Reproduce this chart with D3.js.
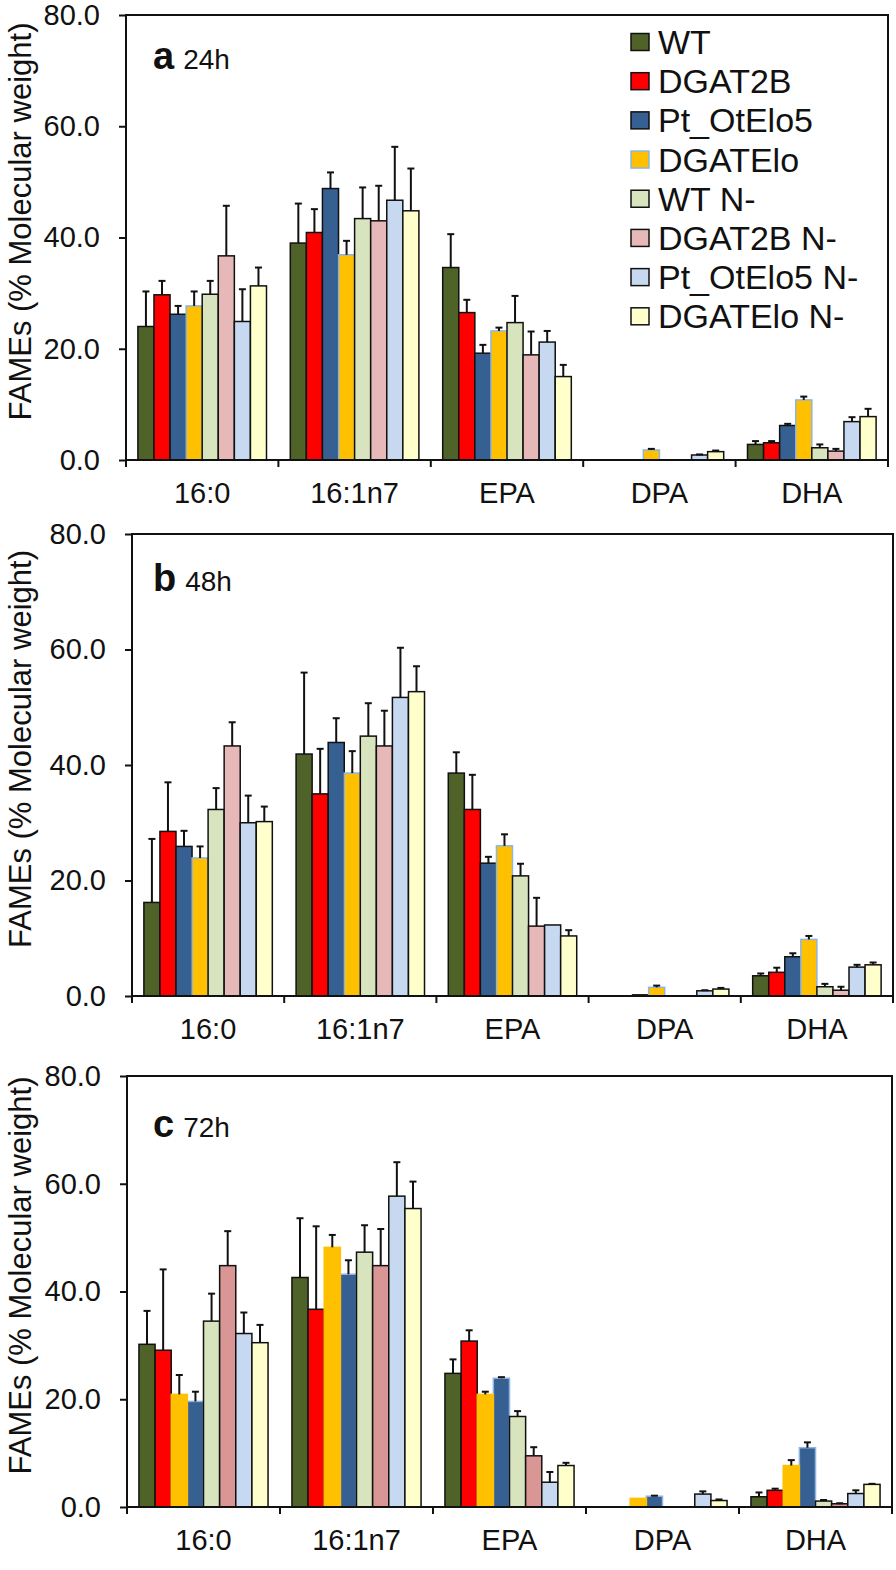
<!DOCTYPE html>
<html><head><meta charset="utf-8">
<script src="https://cdn.jsdelivr.net/npm/d3@7"></script>
<style>
body{margin:0;background:#fff}
svg{display:block}
text{font-family:"Liberation Sans",Arial,Helvetica,sans-serif;fill:#111}
</style>
</head><body>
<svg id="chart" width="896" height="1570"></svg>
<script>
// ---------- DATA ----------
const categories = ["16:0", "16:1n7", "EPA", "DPA", "DHA"];
const series = ["WT", "DGAT2B", "Pt_OtElo5", "DGATElo", "WT N-", "DGAT2B N-", "Pt_OtElo5 N-", "DGATElo N-"];
const yTicks = [0, 20, 40, 60, 80];
const panelLetters = ["a", "b", "c"];
const panelTimes = ["24h", "48h", "72h"];

// rows follow `series`, columns follow `categories`
const mean24h = [
  [24.0, 39.0, 34.6, 0, 2.8],
  [29.7, 40.9, 26.5, 0, 3.1],
  [26.2, 48.8, 19.2, 0, 6.2],
  [27.7, 36.9, 23.2, 1.8, 10.8],
  [29.8, 43.4, 24.7, 0, 2.2],
  [36.7, 43.0, 18.9, 0, 1.6],
  [24.9, 46.7, 21.2, 0.9, 6.9],
  [31.3, 44.8, 15.0, 1.5, 7.8]
];
const err24h = [
  [6.3, 7.1, 6.0, 0, 0.6],
  [2.5, 4.2, 2.3, 0, 0.3],
  [1.5, 2.9, 1.5, 0, 0.3],
  [2.6, 2.5, 0.6, 0.2, 0.6],
  [2.4, 5.6, 4.8, 0, 0.6],
  [9.0, 6.3, 4.2, 0, 0.4],
  [5.8, 9.6, 2.0, 0.1, 0.8],
  [3.3, 7.6, 2.1, 0.2, 1.4]
];
const mean48h = [
  [16.2, 41.9, 38.6, 0, 3.5],
  [28.5, 35.0, 32.3, 0, 4.1],
  [25.9, 43.9, 23.0, 0.2, 6.8],
  [23.9, 38.6, 26.0, 1.5, 9.8],
  [32.3, 45.0, 20.8, 0, 1.6],
  [43.3, 43.3, 12.1, 0, 1.0],
  [30.0, 51.7, 12.3, 0.9, 5.0],
  [30.2, 52.7, 10.4, 1.2, 5.4]
];
const err48h = [
  [11.0, 14.1, 3.6, 0, 0.4],
  [8.5, 7.8, 6.0, 0, 0.8],
  [2.7, 4.2, 1.1, 0, 0.6],
  [2.0, 3.8, 2.0, 0.3, 0.6],
  [3.7, 5.7, 2.1, 0, 0.5],
  [4.1, 6.1, 4.9, 0, 0.6],
  [4.7, 8.6, 0, 0.1, 0.4],
  [2.6, 4.4, 1.0, 0.2, 0.4]
];
const mean72h = [
  [30.2, 42.6, 24.8, 0, 1.9],
  [29.1, 36.7, 30.8, 0, 3.1],
  [19.6, 43.2, 23.9, 2.0, 11.0],
  [20.9, 48.2, 20.9, 1.6, 7.7],
  [34.5, 47.3, 16.8, 0, 1.1],
  [44.8, 44.8, 9.5, 0, 0.6],
  [32.2, 57.7, 4.6, 2.4, 2.5],
  [30.5, 55.4, 7.7, 1.2, 4.2]
];
const err72h = [
  [6.2, 11.0, 2.6, 0, 0.8],
  [15.0, 15.4, 2.0, 0, 0.3],
  [1.8, 2.6, 0.2, 0.1, 1.0],
  [3.6, 2.3, 0.5, 0, 1.0],
  [5.1, 5.0, 1.0, 0, 0.2],
  [6.4, 6.8, 1.6, 0, 0.1],
  [3.9, 6.3, 1.9, 0.5, 0.6],
  [3.3, 5.0, 0.5, 0.2, 0.1]
];
// bar order within each group (panel c swaps Pt_OtElo5 and DGATElo)
const barOrder24h = ["WT", "DGAT2B", "Pt_OtElo5", "DGATElo", "WT N-", "DGAT2B N-", "Pt_OtElo5 N-", "DGATElo N-"];
const barOrder48h = barOrder24h;
const barOrder72h = ["WT", "DGAT2B", "DGATElo", "Pt_OtElo5", "WT N-", "DGAT2B N-", "Pt_OtElo5 N-", "DGATElo N-"];

// ---------- STYLE / LAYOUT ----------
const fills = ["#4F6228", "#FF0000", "#376092", "#FFC000", "#D7E4BD", "#E6B9B8", "#C6D9F1", "#FFFFCC"];
const strokes = ["#111", "#111", "#111", "#8DB4E2", "#111", "#111", "#111", "#111"];
const fills72 = ["#4F6228", "#FF0000", "#376092", "#FFC000", "#D7E4BD", "#DA9694", "#C6D9F1", "#FFFFCC"];
const strokes72 = ["#111", "#111", "#8DB4E2", "#FFC000", "#111", "#111", "#111", "#111"];

const panels = [
  {means: mean24h, errs: err24h, order: barOrder24h, fill: fills, stroke: strokes, left: 126, right: 888, top: 15, bottom: 460, labelBase: 69, legend: true},
  {means: mean48h, errs: err48h, order: barOrder48h, fill: fills, stroke: strokes, left: 132, right: 893, top: 534, bottom: 996, labelBase: 591, legend: false},
  {means: mean72h, errs: err72h, order: barOrder72h, fill: fills72, stroke: strokes72, left: 127, right: 892, top: 1076, bottom: 1507, labelBase: 1137, legend: false}
];

const svg = d3.select("#chart");

panels.forEach((p, pi) => {
  const g = svg.append("g");
  const y = d3.scaleLinear().domain([0, 80]).range([p.bottom, p.top]);
  const x0 = d3.scaleBand().domain(categories).range([p.left, p.right]).padding(0);
  const x1 = d3.scaleBand().domain(p.order).range([0, x0.bandwidth()]).paddingInner(0).paddingOuter(0.74);

  const items = [];
  categories.forEach((c, ci) => {
    series.forEach((s, si) => {
      items.push({c, s, si, v: p.means[si][ci], e: p.errs[si][ci]});
    });
  });
  const vis = items.filter(d => d.v > 0);

  // bars
  g.selectAll("rect.bar").data(vis).join("rect")
    .attr("class", "bar")
    .attr("x", d => x0(d.c) + x1(d.s))
    .attr("y", d => y(d.v))
    .attr("width", x1.bandwidth())
    .attr("height", d => y(0) - y(d.v))
    .attr("fill", d => p.fill[d.si])
    .attr("stroke", d => p.stroke[d.si])
    .attr("stroke-width", 1.5);

  // error bars (upper only)
  const eb = vis.filter(d => d.e > 0);
  const cx = d => x0(d.c) + x1(d.s) + x1.bandwidth() / 2;
  g.selectAll("line.err").data(eb).join("line")
    .attr("x1", cx).attr("x2", cx)
    .attr("y1", d => y(d.v)).attr("y2", d => y(d.v + d.e))
    .attr("stroke", "#111").attr("stroke-width", 2);
  g.selectAll("line.cap").data(eb).join("line")
    .attr("x1", d => cx(d) - 3.5).attr("x2", d => cx(d) + 3.5)
    .attr("y1", d => y(d.v + d.e)).attr("y2", d => y(d.v + d.e))
    .attr("stroke", "#111").attr("stroke-width", 2);

  // y axis
  const ax = g.append("g").attr("transform", `translate(${p.left},0)`)
    .call(d3.axisLeft(y).tickValues(yTicks).tickFormat(d3.format(".1f")).tickSize(7).tickSizeOuter(0).tickPadding(19));
  ax.select(".domain").remove();
  ax.selectAll(".tick line").attr("stroke", "#111").attr("stroke-width", 2);
  ax.selectAll(".tick text").attr("font-size", 29).attr("fill", "#111")
    .style("font-family", '"Liberation Sans",Arial,sans-serif');

  // frame
  g.append("rect")
    .attr("x", p.left).attr("y", p.top)
    .attr("width", p.right - p.left).attr("height", p.bottom - p.top)
    .attr("fill", "none").attr("stroke", "#111").attr("stroke-width", 2);

  // category boundary ticks
  const bounds = categories.map(c => x0(c)).concat([p.right]);
  g.selectAll("line.xt").data(bounds).join("line")
    .attr("x1", d => d).attr("x2", d => d)
    .attr("y1", p.bottom).attr("y2", p.bottom + 7)
    .attr("stroke", "#111").attr("stroke-width", 2);

  // category labels
  g.selectAll("text.cat").data(categories).join("text")
    .attr("x", d => x0(d) + x0.bandwidth() / 2)
    .attr("y", p.bottom + 43)
    .attr("text-anchor", "middle")
    .attr("font-size", 29)
    .text(d => d);

  // y title
  g.append("text")
    .attr("transform", `translate(20,${(p.top + p.bottom) / 2 - 16}) rotate(-90)`)
    .attr("text-anchor", "middle")
    .attr("dominant-baseline", "central")
    .attr("font-size", 31)
    .text("FAMEs (% Molecular weight)");

  // panel label
  const lt = g.append("text").attr("x", 153).attr("y", p.labelBase);
  lt.append("tspan").attr("font-weight", "bold").attr("font-size", 38).text(panelLetters[pi]);
  lt.append("tspan").attr("font-size", 28).attr("dx", 9).text(panelTimes[pi]);

  // legend
  if (p.legend) {
    const ly = d3.scaleLinear().domain([0, series.length - 1]).range([42, 316.3]);
    const lg = g.append("g");
    lg.selectAll("rect").data(series).join("rect")
      .attr("x", 631).attr("y", (d, i) => ly(i) - 8.5)
      .attr("width", 18).attr("height", 17)
      .attr("fill", (d, i) => fills[i])
      .attr("stroke", (d, i) => strokes[i])
      .attr("stroke-width", 1.5);
    lg.selectAll("text").data(series).join("text")
      .attr("x", 658).attr("y", (d, i) => ly(i) + 12)
      .attr("font-size", 34)
      .text(d => d);
  }
});
</script>
</body></html>
